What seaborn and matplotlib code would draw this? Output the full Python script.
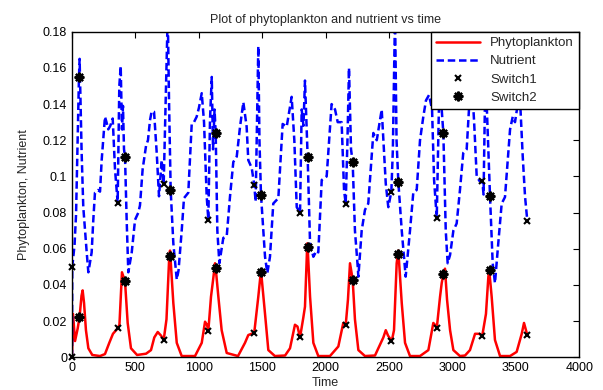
import numpy as np
import pandas as pd
import matplotlib
matplotlib.use("Agg")
import matplotlib.pyplot as plt
import seaborn as sns

# values
phyto_t = [0, 8, 24, 45, 60, 75, 84, 95, 110, 129, 160, 221, 260, 294, 323, 360, 374,
           394, 418, 439, 465, 513, 584, 623, 649, 676, 702, 723, 745, 767, 773, 799, 826,
           865, 970, 1023, 1049, 1064, 1075, 1096, 1114, 1128, 1133, 1154, 1180, 1220, 1309,
           1364, 1390, 1437, 1469, 1490, 1522, 1548, 1600, 1680, 1719, 1758, 1778, 1798, 1824,
           1837, 1855, 1858, 1877, 1903, 1942, 2034, 2100, 2139, 2158, 2176, 2192, 2213, 2231,
           2258, 2310, 2389, 2455, 2474, 2492, 2521, 2539, 2560, 2573, 2600, 2626, 2665, 2744,
           2810, 2849, 2862, 2876, 2902, 2915, 2928, 2941, 2957, 2981, 3007, 3059, 3099, 3138,
           3178, 3209, 3235, 3264, 3283, 3290, 3309, 3335, 3375, 3454, 3506, 3546, 3564, 3590]
phyto_v = [0.000, 0.024, 0.009, 0.016, 0.0225, 0.034, 0.037, 0.030, 0.015, 0.005, 0.0013,
           0.0007, 0.0018, 0.008, 0.013, 0.016, 0.018, 0.047, 0.042, 0.019, 0.005, 0.0013,
           0.002, 0.004, 0.011, 0.014, 0.012, 0.0096, 0.021, 0.056, 0.059, 0.030, 0.008,
           0.0007, 0.0007, 0.008, 0.0197, 0.018, 0.0147, 0.0335, 0.0437, 0.052, 0.0494,
           0.0335, 0.015, 0.0024, 0.0007, 0.008, 0.0123, 0.0136, 0.0335, 0.048, 0.024, 0.004,
           0.0007, 0.001, 0.005, 0.018, 0.017, 0.011, 0.022, 0.028, 0.063, 0.061, 0.0335,
           0.008, 0.0007, 0.0007, 0.006, 0.019, 0.0177, 0.032, 0.052, 0.043, 0.021, 0.004,
           0.0007, 0.001, 0.011, 0.015, 0.012, 0.009, 0.015, 0.052, 0.059, 0.030, 0.008,
           0.0007, 0.0007, 0.004, 0.019, 0.018, 0.016, 0.0335, 0.041, 0.046, 0.049, 0.032,
           0.015, 0.004, 0.0007, 0.001, 0.004, 0.013, 0.013, 0.012, 0.024, 0.0446, 0.048,
           0.0335, 0.0096, 0.0007, 0.0007, 0.003, 0.013, 0.019, 0.0123]

nutr_t = [0, 2, 8, 20, 32, 43, 55, 60, 76, 89, 116, 129, 155, 168, 181, 205, 221, 234, 260,
          272, 286, 302, 321, 339, 360, 373, 384, 394, 402, 410, 418, 431, 444, 471, 497, 523,
          536, 557, 584, 599, 615, 628, 647, 668, 686, 707, 723, 741, 755, 765, 778, 799, 826,
          840, 865, 883, 917, 944, 962, 983, 1001, 1023, 1041, 1062, 1075, 1088, 1102, 1112,
          1124, 1133, 1146, 1162, 1193, 1220, 1246, 1272, 1299, 1325, 1351, 1377, 1390, 1417,
          1437, 1448, 1459, 1469, 1478, 1490, 1522, 1540, 1561, 1587, 1627, 1661, 1693, 1732,
          1753, 1772, 1798, 1811, 1825, 1837, 1858, 1877, 1903, 1929, 1942, 1969, 2008, 2047,
          2074, 2095, 2126, 2145, 2158, 2172, 2184, 2200, 2213, 2231, 2253, 2258, 2284, 2310,
          2336, 2376, 2403, 2442, 2474, 2494, 2518, 2530, 2547, 2559, 2573, 2600, 2631, 2665,
          2691, 2718, 2744, 2770, 2791, 2815, 2839, 2855, 2876, 2891, 2902, 2915, 2928, 2947,
          2962, 2981, 3007, 3033, 3059, 3085, 3112, 3130, 3152, 3170, 3191, 3213, 3235, 3245,
          3260, 3275, 3296, 3317, 3335, 3361, 3388, 3414, 3454, 3475, 3493, 3519, 3533, 3554,
          3572, 3590]
nutr_v = [0.000, 0.050, 0.054, 0.062, 0.079, 0.115, 0.155, 0.165, 0.113, 0.083, 0.058,
          0.047, 0.058, 0.076, 0.091, 0.0925, 0.0916, 0.109, 0.133, 0.130, 0.126, 0.128,
          0.132, 0.104, 0.0855, 0.150, 0.161, 0.126, 0.139, 0.115, 0.111, 0.076, 0.047,
          0.058, 0.076, 0.080, 0.084, 0.104, 0.117, 0.120, 0.131, 0.136, 0.1357, 0.113,
          0.089, 0.109, 0.0958, 0.150, 0.190, 0.142, 0.0925, 0.063, 0.043, 0.048, 0.070,
          0.088, 0.091, 0.129, 0.130, 0.133, 0.138, 0.146, 0.130, 0.089, 0.076, 0.131,
          0.155, 0.115, 0.137, 0.124, 0.070, 0.052, 0.066, 0.067, 0.089, 0.108, 0.111,
          0.1275, 0.141, 0.1275, 0.109, 0.1047, 0.0953, 0.086, 0.131, 0.172, 0.120, 0.090,
          0.0556, 0.0465, 0.0556, 0.085, 0.088, 0.129, 0.1275, 0.144, 0.120, 0.083, 0.080,
          0.137, 0.128, 0.153, 0.111, 0.063, 0.0556, 0.059, 0.058, 0.098, 0.100, 0.140,
          0.137, 0.130, 0.130, 0.0925, 0.085, 0.120, 0.160, 0.115, 0.108, 0.070, 0.050,
          0.0446, 0.070, 0.0815, 0.085, 0.124, 0.120, 0.137, 0.096, 0.083, 0.0916, 0.115,
          0.190, 0.120, 0.097, 0.070, 0.0446, 0.070, 0.091, 0.0925, 0.120, 0.133, 0.142,
          0.145, 0.137, 0.098, 0.077, 0.131, 0.164, 0.137, 0.124, 0.070, 0.052, 0.0566,
          0.070, 0.074, 0.0925, 0.113, 0.115, 0.137, 0.153, 0.131, 0.100, 0.0975, 0.0975,
          0.090, 0.159, 0.130, 0.089, 0.052, 0.041, 0.063, 0.085, 0.0886, 0.126, 0.133,
          0.130, 0.142, 0.142, 0.111, 0.089, 0.0755]

sw1_t = [0, 360, 723, 1075, 1437, 1798, 2158, 2518, 2876, 3235, 3590]
sw1_nutr = [0.050, 0.0855, 0.0958, 0.076, 0.0953, 0.080, 0.085, 0.0916, 0.077, 0.0975, 0.0755]
sw1_phyto = [0.000, 0.016, 0.0096, 0.0147, 0.0136, 0.011, 0.0177, 0.009, 0.016, 0.012, 0.0123]

sw2_t = [58, 418, 775, 1133, 1490, 1858, 2213, 2573, 2928, 3296]
sw2_nutr = [0.155, 0.111, 0.0925, 0.124, 0.090, 0.111, 0.108, 0.097, 0.124, 0.089]
sw2_phyto = [0.0225, 0.042, 0.056, 0.0494, 0.047, 0.061, 0.043, 0.057, 0.046, 0.048]

sns.set_style("white")
plt.rcParams['font.family'] = ['Liberation Sans', 'DejaVu Sans']

fig = plt.figure(figsize=(6.03, 3.90), dpi=100)
ax = fig.add_axes([0.1194, 0.0838, 0.8413, 0.8349])

phyto = pd.DataFrame({'t': phyto_t, 'v': phyto_v})
nutr = pd.DataFrame({'t': nutr_t, 'v': nutr_v})

sns.lineplot(data=phyto, x='t', y='v', color='#ff0000', linewidth=1.8,
             sort=False, estimator=None, label='Phytoplankton', ax=ax)
sns.lineplot(data=nutr, x='t', y='v', color='#0000ff', linewidth=1.8, linestyle='--',
             sort=False, estimator=None, label='Nutrient', ax=ax)
ax.lines[-1].set_dashes((3, 1.5))

# switch markers sit on both curves
ax.plot(sw1_t + sw1_t, sw1_nutr + sw1_phyto, linestyle='none', marker='x',
        color='black', markersize=4, markeredgewidth=1.5, label='Switch1', clip_on=False)
ax.plot(sw2_t + sw2_t, sw2_nutr + sw2_phyto, linestyle='none', marker=(8, 2, 0),
        color='black', markersize=7, markeredgewidth=1.6, label='Switch2', clip_on=False)

ax.set_xlim(0, 4000)
ax.set_ylim(0, 0.18)
ax.set_xticks(np.arange(0, 4001, 500))
ax.set_yticks(np.arange(0, 0.181, 0.02))
ax.set_yticklabels(['%g' % round(v, 2) for v in np.arange(0, 0.181, 0.02)])
ax.tick_params(direction='in', length=4, width=0.8, top=True, right=True,
               labelsize=9, colors='black', pad=3.5)
for s in ax.spines.values():
    s.set_color('black')
    s.set_linewidth(1.0)

ax.set_title('Plot of phytoplankton and nutrient vs time', fontsize=9, pad=6)
ax.set_xlabel('Time', fontsize=9, labelpad=2)
ax.set_ylabel('Phytoplankton, Nutrient', fontsize=9, labelpad=9)

leg = ax.legend(loc='upper right', borderaxespad=0, fancybox=False, framealpha=1,
                edgecolor='black', fontsize=9.5, handlelength=3.3, labelspacing=0.45,
                borderpad=0.4, handletextpad=0.8)
leg.get_frame().set_linewidth(1.0)

fig.savefig('out.png', dpi=100)
